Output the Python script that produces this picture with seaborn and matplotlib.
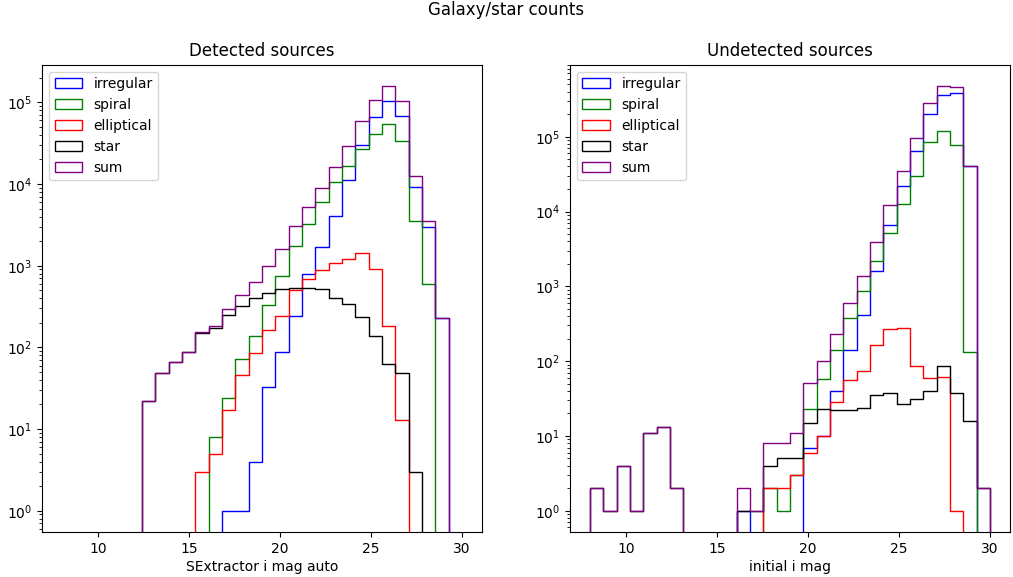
import numpy as np
import matplotlib
matplotlib.use("Agg")
import matplotlib.pyplot as plt
from matplotlib.patches import Patch
import seaborn as sns

# Shared magnitude binning: 30 bins from mag 8 to mag 30
bin_edges = np.linspace(8.0, 30.0, 31)
bin_centers = 0.5 * (bin_edges[:-1] + bin_edges[1:])

# Detected sources: counts per bin (SExtractor i mag auto)
det_irregular = [0, 0, 0, 0, 0, 0, 0, 0, 0, 0, 0, 0, 1, 1, 4, 33, 87, 245, 790, 1686,
                 4027, 11280, 30300, 65600, 104700, 68700, 9090, 2958, 232, 0]
det_spiral = [0, 0, 0, 0, 0, 0, 0, 0, 0, 0, 0, 8, 24, 72, 136, 331, 747, 1740, 3280, 5970,
              10470, 16710, 26700, 41000, 54300, 34000, 3566, 603, 0, 0]
det_elliptical = [0, 0, 0, 0, 0, 0, 0, 0, 0, 0, 3, 5, 17, 46, 85, 164, 243, 500, 681, 884,
                  1066, 1217, 1439, 919, 183, 13, 0, 0, 0, 0]
det_star = [0, 0, 0, 0, 0, 0, 22, 48, 67, 89, 152, 172, 250, 321, 399, 469, 525, 540, 530, 514,
            407, 344, 236, 138, 63, 48, 3, 0, 0, 0]

# Undetected sources: counts per bin (initial i mag)
und_irregular = [0, 0, 0, 0, 0, 0, 0, 0, 0, 0, 0, 1, 0, 0, 0, 0, 7, 10, 40, 140,
                 410, 1585, 6570, 22220, 65030, 202600, 358000, 385000, 40050, 0]
und_spiral = [0, 0, 0, 0, 0, 0, 0, 0, 0, 0, 0, 0, 0, 2, 1, 3, 23, 57, 140, 374,
              865, 2154, 5190, 12790, 30200, 83950, 120200, 78200, 131, 0]
und_elliptical = [0, 0, 0, 0, 0, 0, 0, 0, 0, 0, 0, 0, 0, 2, 2, 3, 6, 10, 28, 56,
                  73, 165, 267, 281, 87, 59, 61, 1, 0, 0]
und_star = [2, 1, 4, 1, 11, 13, 2, 0, 0, 0, 0, 1, 1, 4, 5, 5, 15, 23, 22, 22,
            24, 35, 38, 27, 31, 40, 87, 37, 16, 2]

class_names = ["irregular", "spiral", "elliptical", "star", "sum"]
class_colors = ["blue", "green", "red", "black", "purple"]


def draw_panel(ax, components, title, xlabel):
    comps = [np.asarray(c, dtype=float) for c in components]
    total = np.sum(comps, axis=0)
    for name, counts, color in zip(class_names, comps + [total], class_colors):
        sns.histplot(x=bin_centers, weights=counts, bins=list(bin_edges),
                     element="step", fill=True, color=color,
                     facecolor="none", edgecolor=color, linewidth=1.0, ax=ax)
    ax.set_yscale("log")
    span = bin_edges[-1] - bin_edges[0]
    ax.set_xlim(bin_edges[0] - 0.05 * span, bin_edges[-1] + 0.05 * span)
    top = np.log10(total.max())
    ax.set_ylim(10 ** (-0.05 * top), 10 ** (1.05 * top))
    ax.set_title(title)
    ax.set_xlabel(xlabel, labelpad=3)
    ax.set_ylabel("")
    handles = [Patch(facecolor="none", edgecolor=c, linewidth=1.0) for c in class_colors]
    ax.legend(handles, class_names, loc="upper left")


fig, (ax_det, ax_und) = plt.subplots(1, 2, figsize=(10.13, 5.77), dpi=100)
fig.subplots_adjust(left=0.0415, right=0.997, top=0.888, bottom=0.078, wspace=0.2)

draw_panel(ax_det, [det_irregular, det_spiral, det_elliptical, det_star],
           "Detected sources", "SExtractor i mag auto")
draw_panel(ax_und, [und_irregular, und_spiral, und_elliptical, und_star],
           "Undetected sources", "initial i mag")

fig.suptitle("Galaxy/star counts", y=0.998, va="top")
fig.savefig("out.png", dpi=100)
